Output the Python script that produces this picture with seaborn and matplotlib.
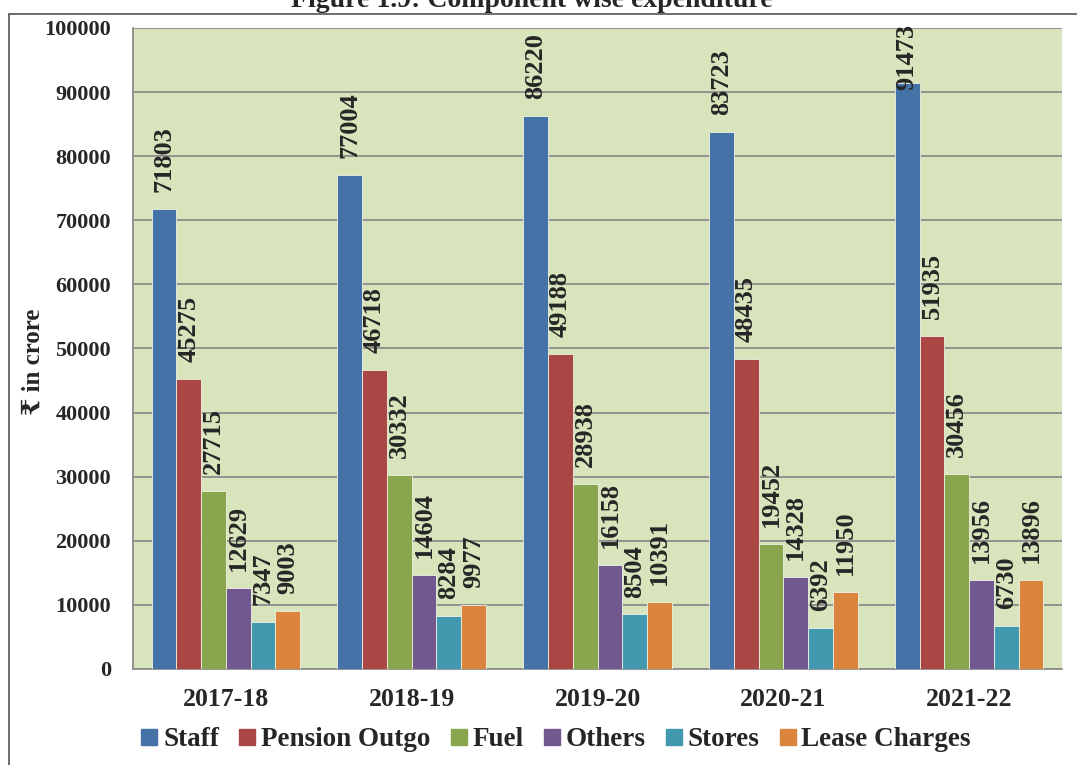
import numpy as np
import pandas as pd
import matplotlib.pyplot as plt
import seaborn as sns
from matplotlib.lines import Line2D

years = ['2017-18', '2018-19', '2019-20', '2020-21', '2021-22']
components = ['Staff', 'Pension Outgo', 'Fuel', 'Others', 'Stores', 'Lease Charges']
staff = [71803, 77004, 86220, 83723, 91473]
pension = [45275, 46718, 49188, 48435, 51935]
fuel = [27715, 30332, 28938, 19452, 30456]
others = [12629, 14604, 16158, 14328, 13956]
stores = [7347, 8284, 8504, 6392, 6730]
lease = [9003, 9977, 10391, 11950, 13896]
colors = ['#4572A7', '#AA4643', '#89A54E', '#71588F', '#4198AF', '#DB843D']

series = [staff, pension, fuel, others, stores, lease]
rows = []
for comp, vals in zip(components, series):
    for yr, v in zip(years, vals):
        rows.append({'Year': yr, 'Component': comp, 'Value': v})
df = pd.DataFrame(rows)

sns.set_style('white')
serif = ['Liberation Serif', 'DejaVu Serif', 'DejaVu Sans']
plt.rcParams['font.family'] = serif
plt.rcParams['font.weight'] = 'bold'

fig = plt.figure(figsize=(10.77, 7.65), dpi=100)
ax = fig.add_axes([133 / 1077, 1 - 669 / 765, (1062 - 133) / 1077, (669 - 28) / 765])
ax.set_facecolor('#D8E4BC')

sns.barplot(data=df, x='Year', y='Value', hue='Component', hue_order=components,
            palette=colors, saturation=1, width=0.8, ax=ax, legend=False,
            edgecolor='#EEF2E4', linewidth=0.6, zorder=3)

ax.set_ylim(0, 100000)
ax.set_xlim(-0.5, 4.5)
ax.set_yticks(np.arange(0, 100001, 10000))
ax.yaxis.grid(True, color='#8C8C8C', linewidth=1.3, zorder=0)
ax.set_axisbelow(True)
for s in ['top', 'right']:
    ax.spines[s].set_visible(False)
for s in ['left', 'bottom']:
    ax.spines[s].set_color('#8C8C8C')
    ax.spines[s].set_linewidth(1.3)

ax.tick_params(axis='y', length=4, width=1.3, color='#8C8C8C', pad=12, labelsize=16)
ax.tick_params(axis='x', which='major', length=0, pad=14, labelsize=18.5)
ax.set_xticks(np.arange(-0.5, 5, 1), minor=True)
ax.tick_params(axis='x', which='minor', length=6, width=1.3, color='#8C8C8C')
for lab in ax.get_xticklabels() + ax.get_yticklabels():
    lab.set_fontweight('bold')

ax.set_xlabel('')
ax.set_ylabel('₹ in crore', fontsize=18, fontweight='bold')
ax.yaxis.set_label_coords((45 - 133) / 929, 0.48)

# value labels above bars, rotated
for cont in ax.containers:
    for bar in cont:
        h = bar.get_height()
        x = bar.get_x() + bar.get_width() / 2
        ax.text(x, min(h + 2650, 90300), f'{int(round(h))}', rotation=90,
                ha='center', va='bottom', fontsize=19, fontweight='bold',
                clip_on=False, zorder=5)

handles = [Line2D([0], [0], marker='s', linestyle='', markersize=12,
                  markerfacecolor=c, markeredgecolor=c) for c in colors]
fig.legend(handles, components, loc='center', bbox_to_anchor=(556 / 1077, 1 - 740 / 765),
           ncol=6, frameon=False, prop={'family': serif, 'weight': 'bold', 'size': 19.5},
           handlelength=0.6, handletextpad=0.2, columnspacing=0.75)

fig.text(532 / 1077, 1 - 7 / 765, 'Figure 1.9: Component wise expenditure',
         ha='center', va='baseline', fontsize=20, fontweight='bold')

# outer chart frame
fig.add_artist(Line2D([9 / 1077, 9 / 1077], [0, 1 - 14 / 765], transform=fig.transFigure,
                      color='#555555', linewidth=1.2))
fig.add_artist(Line2D([9 / 1077, 1], [1 - 14 / 765, 1 - 14 / 765], transform=fig.transFigure,
                      color='#555555', linewidth=1.2))

fig.savefig('out.png', dpi=100)
